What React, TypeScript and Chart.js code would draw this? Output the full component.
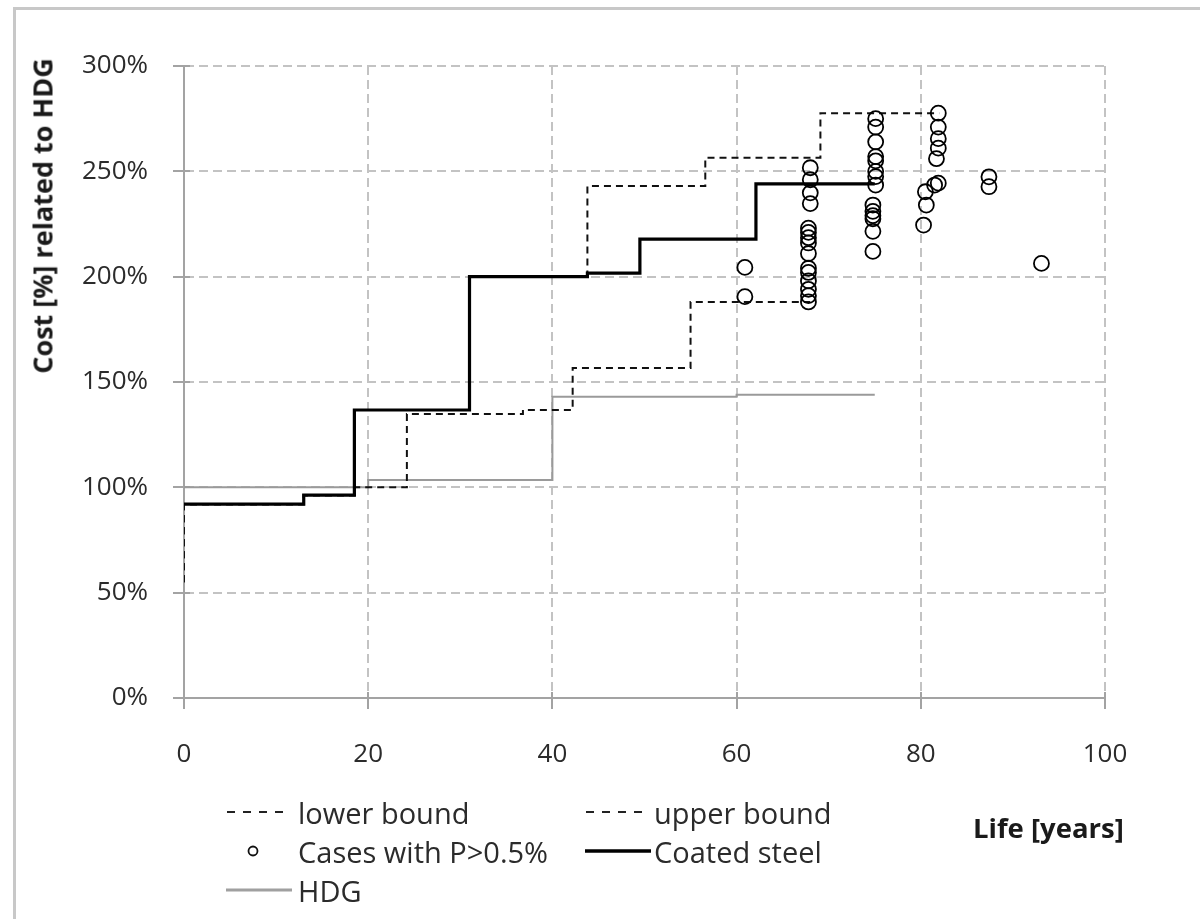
import React, { useEffect, useRef } from 'react';
import { Chart, registerables } from 'chart.js';

Chart.register(...registerables);

// ---- Data ----
const xTickValues = [0, 20, 40, 60, 80, 100];
const yTickValues = [0, 50, 100, 150, 200, 250, 300];

const lowerX = [0, 0, 13, 18.5, 24.2, 36.8, 42.2, 55, 68];
const lowerY = [55, 92, 96.3, 100, 134.8, 136.7, 156.6, 188, 188];

const upperX = [0, 0, 13, 18.5, 31, 43.8, 56.6, 69.1, 82];
const upperY = [55, 92, 96.3, 136.7, 200, 243, 256.5, 277.6, 277.6];

const coatedX = [0, 13, 18.5, 31, 43.8, 49.5, 62.1, 75];
const coatedY = [92, 96.3, 136.7, 200, 201.7, 217.8, 244, 244];

const hdgX = [0, 20, 40, 60, 75];
const hdgY = [100, 103.5, 143, 144, 144];

const casesX = [
  60.9, 60.9,
  68, 68, 68, 68,
  67.8, 67.8, 67.8, 67.8, 67.8, 67.8, 67.8, 67.8, 67.8, 67.8, 67.8,
  75.1, 75.1, 75.1, 75.1, 75.1, 75.1, 75.1, 75.1,
  74.8, 74.8, 74.8, 74.8, 74.8, 74.8,
  80.3, 80.6, 80.5, 81.5, 81.9,
  81.9, 81.9, 81.9, 81.9, 81.7,
  87.4, 87.4,
  93.1,
];
const casesY = [
  204.4, 190.5,
  251.7, 246, 239.8, 234.7,
  223, 221, 218.5, 216, 211, 204, 202, 198, 194, 191, 188,
  275, 271, 264, 257, 255, 250, 247.5, 243.5,
  234, 231, 229, 227.5, 221.5, 212,
  224.5, 234, 240.3, 243.5, 244.4,
  277.6, 271, 265.5, 261, 256,
  247.4, 242.7,
  206.3,
];

const legendRows = [
  ['lower bound', 'upper bound'],
  ['Cases with P>0.5%', 'Coated steel'],
  ['HDG', ''],
];

const toPts = (xs: number[], ys: number[]) => xs.map((x, i) => ({ x, y: ys[i] }));

const GRID = '#c3c3c3';
const AXIS = '#a3a3a3';
const TEXT = '#2b2b2b';
const FONT = '"Open Sans", sans-serif';

export default function App() {
  const ref = useRef<HTMLCanvasElement>(null);

  useEffect(() => {
    const crossTicks = {
      id: 'crossTicks',
      beforeDatasetsDraw(chart: any) {
        const { ctx, chartArea, scales } = chart;
        ctx.save();
        ctx.strokeStyle = AXIS;
        ctx.lineWidth = 2;
        yTickValues.forEach((v) => {
          const py = Math.round(scales.y.getPixelForValue(v));
          ctx.beginPath();
          ctx.moveTo(chartArea.left - 11, py);
          ctx.lineTo(chartArea.left + 6, py);
          ctx.stroke();
        });
        xTickValues.forEach((v) => {
          const px = Math.round(scales.x.getPixelForValue(v));
          ctx.beginPath();
          ctx.moveTo(px, chartArea.bottom - 6);
          ctx.lineTo(px, chartArea.bottom + 11);
          ctx.stroke();
        });
        ctx.restore();
      },
    };

    const chart = new Chart(ref.current as HTMLCanvasElement, {
      type: 'scatter',
      data: {
        datasets: [
          {
            label: 'HDG',
            data: toPts(hdgX, hdgY),
            showLine: true,
            stepped: 'before',
            borderColor: '#9a9a9a',
            borderWidth: 2,
            pointRadius: 0,
            order: 4,
          },
          {
            label: 'lower bound',
            data: toPts(lowerX, lowerY),
            showLine: true,
            stepped: 'before',
            borderColor: '#111',
            borderWidth: 2,
            borderDash: [7, 5],
            pointRadius: 0,
            order: 3,
          },
          {
            label: 'upper bound',
            data: toPts(upperX, upperY),
            showLine: true,
            stepped: 'before',
            borderColor: '#111',
            borderWidth: 2,
            borderDash: [7, 5],
            pointRadius: 0,
            order: 2,
          },
          {
            label: 'Coated steel',
            data: toPts(coatedX, coatedY),
            showLine: true,
            stepped: 'before',
            borderColor: '#000',
            borderWidth: 3.2,
            pointRadius: 0,
            order: 1,
          },
          {
            label: 'Cases with P>0.5%',
            data: toPts(casesX, casesY),
            showLine: false,
            pointStyle: 'circle',
            pointRadius: 7.5,
            pointBorderWidth: 1.8,
            pointBorderColor: '#000',
            pointBackgroundColor: 'rgba(0,0,0,0)',
            order: 0,
          } as any,
        ],
      },
      options: {
        animation: false,
        responsive: false,
        events: [],
        layout: { padding: { left: 14, right: 95, top: 66, bottom: 0 } },
        plugins: { legend: { display: false }, tooltip: { enabled: false }, title: { display: false } },
        scales: {
          x: {
            type: 'linear',
            min: 0,
            max: 100,
            afterFit: (s: any) => { s.height = 221; },
            ticks: {
              stepSize: 20,
              padding: 41,
              color: TEXT,
              font: { family: FONT, size: 26 },
              maxRotation: 0,
            },
            grid: { color: GRID, lineWidth: 2, drawTicks: false },
            border: { display: true, color: AXIS, width: 2, dash: [9, 5] },
          },
          y: {
            type: 'linear',
            min: 0,
            max: 300,
            afterFit: (s: any) => { s.width = 170; },
            ticks: {
              stepSize: 50,
              padding: 36,
              color: TEXT,
              font: { family: FONT, size: 26 },
              callback: (v: any) => v + '%',
            },
            grid: { color: GRID, lineWidth: 2, drawTicks: false },
            border: { display: true, color: AXIS, width: 2, dash: [9, 5] },
          },
        },
      },
      plugins: [crossTicks],
    });
    return () => chart.destroy();
  }, []);

  const sample = (kind: string) => {
    if (kind === 'lower bound' || kind === 'upper bound') {
      return (
        <svg width="66" height="10"><line x1="1" y1="5" x2="65" y2="5" stroke="#222" strokeWidth="2" strokeDasharray="8 8" /></svg>
      );
    }
    if (kind === 'Cases with P>0.5%') {
      return (
        <svg width="66" height="14"><circle cx="27" cy="7" r="4.5" fill="none" stroke="#111" strokeWidth="1.8" /></svg>
      );
    }
    if (kind === 'Coated steel') {
      return (
        <svg width="66" height="10"><line x1="0" y1="5" x2="66" y2="5" stroke="#000" strokeWidth="3.5" /></svg>
      );
    }
    return (
      <svg width="66" height="10"><line x1="0" y1="5" x2="66" y2="5" stroke="#a0a0a0" strokeWidth="3" /></svg>
    );
  };

  const rowCenters = [812, 851, 890];
  const colSample = [226, 585];
  const colText = [298, 654];

  return (
    <div style={{ position: 'fixed', left: 0, top: 0, width: 1200, height: 919, overflow: 'hidden', background: '#fff' }}>
      <div style={{ position: 'absolute', left: 13, top: 7, width: 1300, height: 1000, border: '3px solid #c8c8c8', boxSizing: 'border-box' }} />
      <canvas ref={ref} width={1200} height={919} style={{ position: 'absolute', left: 0, top: 0, width: 1200, height: 919 }} />
      <div
        style={{
          position: 'absolute', left: 42, top: 216, transform: 'translate(-50%, -50%) rotate(-90deg)',
          whiteSpace: 'nowrap', fontFamily: FONT, fontWeight: 700, fontSize: 27, color: '#1a1a1a', lineHeight: 1,
        }}
      >
        Cost [%] related to HDG
      </div>
      <div
        style={{
          position: 'absolute', left: 973, top: 828, transform: 'translateY(-50%)',
          whiteSpace: 'nowrap', fontFamily: FONT, fontWeight: 700, fontSize: 27.5, color: '#1a1a1a', lineHeight: 1,
        }}
      >
        Life [years]
      </div>
      {legendRows.map((row, r) =>
        row.map((label, c) =>
          label ? (
            <React.Fragment key={label}>
              <div style={{ position: 'absolute', left: colSample[c], top: rowCenters[r] - 10, height: 20, width: 66, display: 'flex', alignItems: 'center' }}>
                {sample(label)}
              </div>
              <div
                style={{
                  position: 'absolute', left: colText[c], top: rowCenters[r], transform: 'translateY(-50%)',
                  whiteSpace: 'nowrap', fontFamily: FONT, fontSize: 29, color: TEXT, lineHeight: 1,
                }}
              >
                {label}
              </div>
            </React.Fragment>
          ) : null
        )
      )}
    </div>
  );
}
